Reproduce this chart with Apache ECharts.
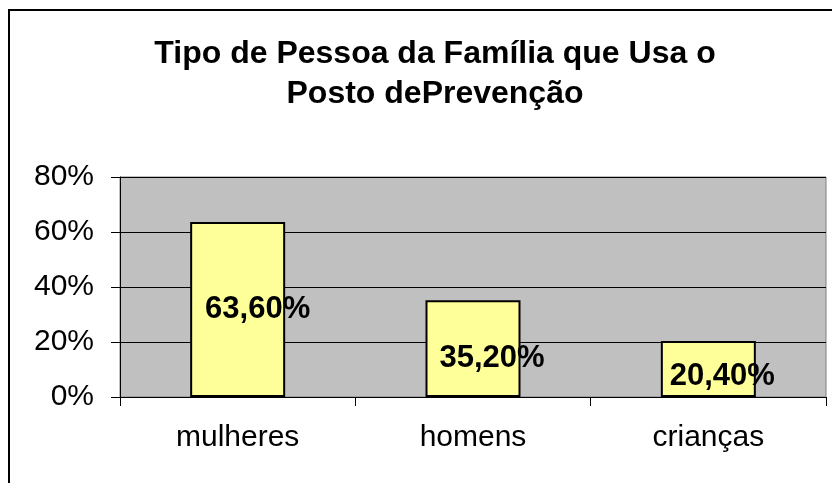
<!DOCTYPE html>
<html>
<head>
<meta charset="utf-8">
<script src="https://cdn.jsdelivr.net/npm/echarts@6/dist/echarts.min.js"></script>
<style>
  html, body { margin: 0; padding: 0; background: #fff; }
  #chart { width: 832px; height: 483px; }
</style>
</head>
<body>
<div id="chart"></div>
<script>
const titleText = "Tipo de Pessoa da Família que Usa o\nPosto dePrevenção";
const categories = ["mulheres", "homens", "crianças"];
const values = [0.636, 0.352, 0.204];
const yTicks = [0, 0.2, 0.4, 0.6, 0.8];

// label nudges, the original places them a bit off centre
const labelOffsets = [[20, 0], [19, 10], [14, 8]];

const font = "Liberation Sans, Arial, sans-serif";
const chart = echarts.init(document.getElementById("chart"));

chart.setOption({
  animation: false,
  backgroundColor: "#fff",
  title: {
    text: titleText,
    left: 430,
    top: 29,
    textAlign: "center",
    textStyle: {
      fontFamily: font,
      fontWeight: "bold",
      fontSize: 32,
      lineHeight: 40,
      color: "#000",
    },
  },
  graphic: [
    {
      type: "rect",
      shape: { x: 9, y: 10, width: 900, height: 600 },
      style: { fill: "none", stroke: "#000", lineWidth: 2 },
      z: 100,
    },
  ],
  grid: {
    left: 120,
    right: 6,
    top: 177,
    bottom: 86,
    show: true,
    backgroundColor: "#c0c0c0",
    borderColor: "#808080",
    borderWidth: 1,
  },
  xAxis: {
    type: "category",
    data: categories,
    axisLine: { lineStyle: { color: "#000", width: 1 } },
    axisTick: { show: true, length: 9, lineStyle: { color: "#000" } },
    axisLabel: {
      margin: 26,
      fontFamily: font,
      fontSize: 30,
      color: "#000",
    },
  },
  yAxis: {
    type: "value",
    min: yTicks[0],
    max: yTicks[yTicks.length - 1],
    interval: 0.2,
    axisLine: { show: true, lineStyle: { color: "#000", width: 1 } },
    axisTick: { show: true, length: 9, lineStyle: { color: "#000" } },
    splitLine: { lineStyle: { color: "#000", width: 1 } },
    axisLabel: {
      margin: 26,
      fontFamily: font,
      fontSize: 30,
      color: "#000",
      formatter: (v) => Math.round(v * 100) + "%",
    },
  },
  series: [
    {
      type: "bar",
      data: values.map((v, i) => ({ value: v, label: { offset: labelOffsets[i] } })),
      barWidth: 95,
      itemStyle: {
        color: "#ffff99",
        borderColor: "#000",
        borderWidth: 2,
      },
      label: {
        show: true,
        position: "inside",
        fontFamily: font,
        fontWeight: "bold",
        fontSize: 31,
        color: "#000",
        formatter: (p) => (p.value * 100).toFixed(2).replace(".", ",") + "%",
      },
    },
  ],
});
</script>
</body>
</html>
